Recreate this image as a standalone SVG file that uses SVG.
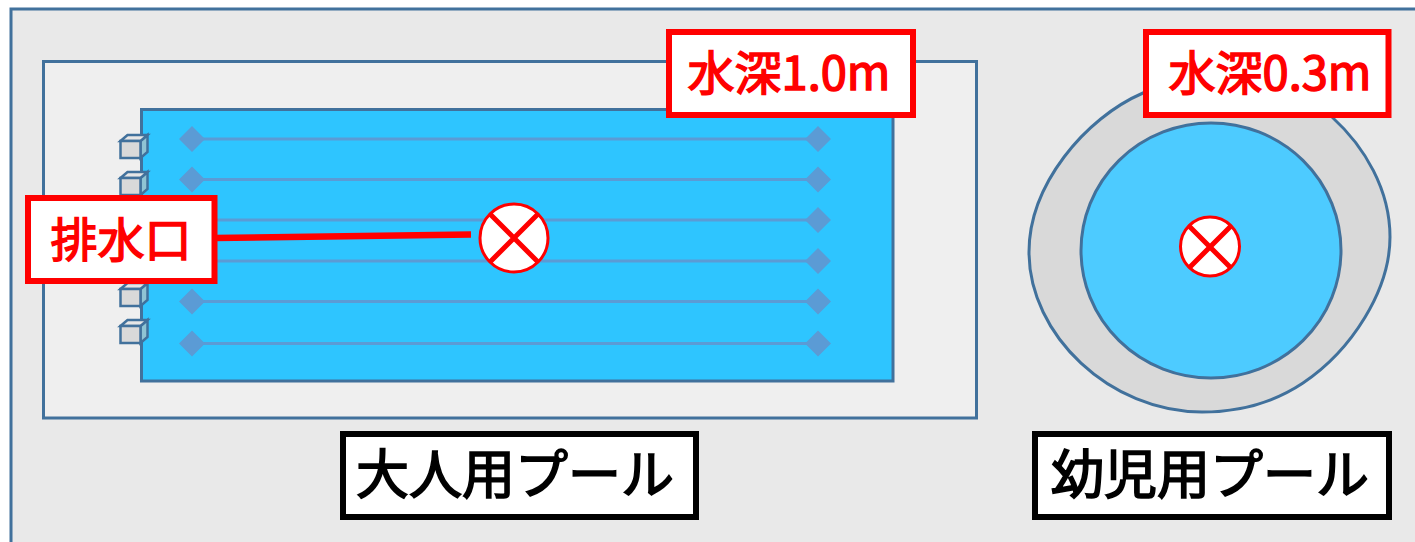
<svg xmlns="http://www.w3.org/2000/svg" width="1415" height="542" viewBox="0 0 1415 542">
<defs>
<style>
.lane{stroke:#5b9bd5;stroke-width:3}
.dia{fill:#5b9bd5}
.red{fill:#fff;stroke:#f00;stroke-width:6}
.blk{fill:#fff;stroke:#000;stroke-width:6}
.rt{fill:#f00;stroke:#f00;stroke-width:1.5;font-family:"Noto Sans CJK JP","Liberation Sans",sans-serif;font-size:47px}
.bt{fill:#000;stroke:#000;stroke-width:1.7;font-family:"Noto Sans CJK JP","Liberation Sans",sans-serif;font-size:53px}
.x{stroke:#f00;stroke-width:5;fill:none}
.cf{fill:#d9d9d9;stroke:#41719c;stroke-width:2.5}
.ct{fill:#e6e6e6;stroke:#41719c;stroke-width:2.5}
.cs{fill:#8fc4d4;stroke:#41719c;stroke-width:2.5}
</style>
<g id="cube"><path class="cs" d="M20 0l7-6v17l-7 6z"/><path class="ct" d="M0 0l7-6h20l-7 6z"/><rect class="cf" width="20" height="17"/></g>
<g id="lanePart"><path class="lane" d="M192 0H818"/><path class="dia" d="M192-13l13 13-13 13-13-13zM818-13l13 13-13 13-13-13z"/></g>
</defs>
<rect id="ground" x="11" y="9" width="1420" height="550" fill="#e9e9e9" stroke="#41719c" stroke-width="3"/>
<g id="adult-deck"><rect x="43.500" y="61.500" width="933" height="356.500" fill="#efefef" stroke="#41719c" stroke-width="3"/></g>
<g id="adult-pool"><rect x="141.500" y="109.500" width="751.500" height="271.500" fill="#2ec5ff" stroke="#41719c" stroke-width="3"/></g>
<g id="lanes">
<use href="#lanePart" y="139"/><use href="#lanePart" y="179.500"/><use href="#lanePart" y="220"/><use href="#lanePart" y="261"/><use href="#lanePart" y="301.500"/><use href="#lanePart" y="343.500"/>
</g>
<g id="blocks">
<use href="#cube" x="120.500" y="141"/><use href="#cube" x="120.500" y="178"/><use href="#cube" x="120.500" y="215"/><use href="#cube" x="120.500" y="252"/><use href="#cube" x="120.500" y="289"/><use href="#cube" x="120.500" y="326"/>
</g>
<g id="child-pool">
<path d="M1029 252C1029 185 1085 118 1143 93C1170 82 1200 78 1225 78C1270 78 1305 93 1332 117C1365 147 1390 190 1390 237C1390 290 1352 350 1303 383C1270 405 1237 412 1202 412C1110 412 1029 335 1029 252Z" fill="#d9d9d9" stroke="#41719c" stroke-width="3"/>
<ellipse cx="1211" cy="250.500" rx="130" ry="127.500" fill="#4dcbff" stroke="#41719c" stroke-width="3"/>
</g>
<g id="connectors"><path d="M214 238L471 234.500" stroke="#f00" stroke-width="6.500" fill="none"/></g>
<g id="drain-adult"><circle cx="514" cy="238" r="34" fill="#fff" stroke="#f00" stroke-width="3"/><path class="x" d="M490 214L538 262M538 214L490 262"/></g>
<g id="drain-child"><circle cx="1210" cy="246.500" r="29.500" fill="#fff" stroke="#f00" stroke-width="3"/><path class="x" d="M1189 226L1231 268M1231 226L1189 268"/></g>
<g id="label-drain"><rect class="red" x="28" y="198" width="186.500" height="83"/><text class="rt" x="121" y="257" text-anchor="middle">排水口</text></g>
<g id="label-depth1"><rect class="red" x="669" y="32" width="244" height="83"/><text class="rt" x="789" y="90" text-anchor="middle">水深1.0m</text></g>
<g id="label-depth2"><rect class="red" x="1146" y="32" width="242.500" height="83"/><text class="rt" x="1270" y="90" text-anchor="middle">水深0.3m</text></g>
<g id="label-adult"><rect class="blk" x="343" y="434" width="353" height="83"/><text class="bt" x="515" y="494" text-anchor="middle">大人用プール</text></g>
<g id="label-child"><rect class="blk" x="1035" y="434" width="354" height="83"/><text class="bt" x="1210" y="494" text-anchor="middle">幼児用プール</text></g>
</svg>
